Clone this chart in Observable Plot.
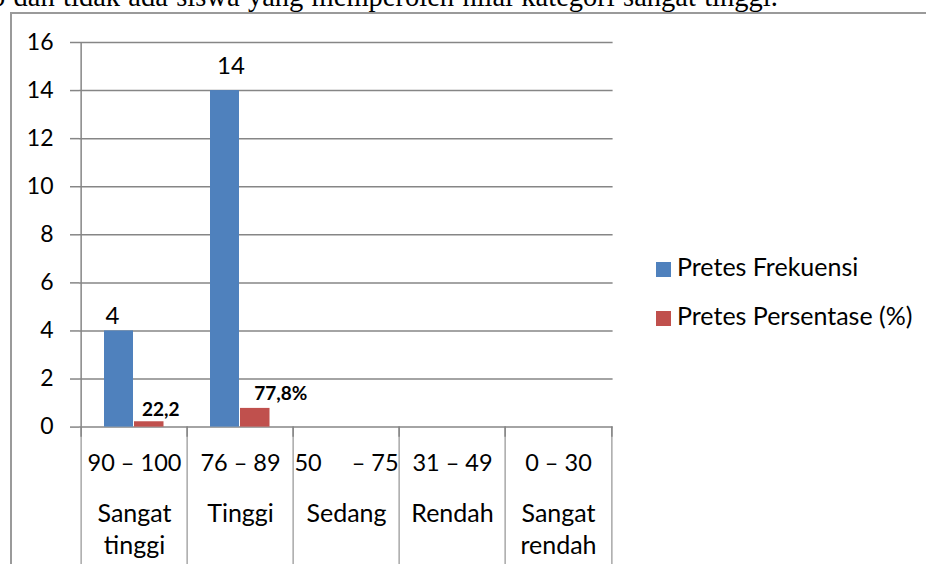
<!DOCTYPE html>
<html>
<head>
<meta charset="utf-8">
<script src="https://cdn.jsdelivr.net/npm/d3@7"></script>
<script src="https://cdn.jsdelivr.net/npm/@observablehq/plot@0.6"></script>
<style>
  html, body { margin: 0; padding: 0; background: white; }
  #wrap { position: relative; width: 926px; height: 564px; overflow: hidden; background: white; }
  #caption { position: absolute; left: -9px; top: -17px; font-family: "Liberation Serif", serif; font-size: 28.5px; line-height: 27px; word-spacing: 1.2px; white-space: nowrap; color: #000; }
  #border { position: absolute; left: 10px; top: 12px; width: 1000px; height: 700px; border-left: 2px solid #9a9a9a; border-top: 2px solid #9a9a9a; box-sizing: border-box; }
  #chart { position: absolute; left: 0; top: 0; }
  .legend { position: absolute; left: 656px; font-family: Lato, sans-serif; font-size: 25px; color: #000; white-space: nowrap; line-height: 25px; }
  .legend .sw { position: absolute; left: 0; width: 15px; height: 15px; }
  .legend .lt { position: absolute; left: 21px; }
</style>
</head>
<body>
<div id="wrap">
  <div id="caption"></div>
  <div id="border"></div>
  <div id="chart"></div>
</div>
<script>
const captionText = "b dan tidak ada siswa yang memperoleh nilai kategori sangat tinggi.";
const categories = ["Sangat tinggi", "Tinggi", "Sedang", "Rendah", "Sangat rendah"];
const rangeLabels = ["90 – 100", "76 – 89", "50\u00A0\u00A0\u00A0\u00A0\u00A0– 75", "31 – 49", "0 – 30"];
const categoryLabels = ["Sangat\ntinggi", "Tinggi", "Sedang", "Rendah", "Sangat\nrendah"];
const frekuensi = [4, 14, 0, 0, 0];
const persentase = [0.222, 0.778, 0, 0, 0];
const persentaseLabels = ["22,2", "77,8%", "", "", ""];
const yTicks = [0, 2, 4, 6, 8, 10, 12, 14, 16];
const seriesNames = ["Pretes Frekuensi", "Pretes Persentase (%)"];
const seriesColors = ["#4F81BD", "#C0504D"];

document.getElementById("caption").textContent = captionText;

const W = 926, H = 564;
const mL = 79, mR = 313.4, mT = 42, mB = 137.4;
const step = (W - mL - mR) / categories.length;
const grid = "#868686";

const rows = categories.map((c, i) => ({
  cat: c, range: rangeLabels[i], label: categoryLabels[i],
  freq: frekuensi[i], pers: persentase[i], persLabel: persentaseLabels[i]
}));
const freqRows = rows.filter(d => d.freq > 0);
const persRows = rows.filter(d => d.pers > 0);

const plot = Plot.plot({
  width: W, height: H,
  marginLeft: mL, marginRight: mR, marginTop: mT, marginBottom: mB,
  style: { fontFamily: "Lato, sans-serif", fontSize: "23px", color: "#000", background: "transparent" },
  x: { type: "band", domain: categories, padding: 0, axis: null },
  y: { domain: [0, 16], axis: null },
  marks: [
    // light dividers below axis (category cells)
    Plot.ruleX(categories, { x: d => d, dx: -step / 2, y1: 0, y2: -6, stroke: "#a8a8a8", strokeWidth: 1.5 }),
    Plot.ruleX([categories[categories.length - 1]], { x: d => d, dx: step / 2, y1: 0, y2: -6, stroke: "#a8a8a8", strokeWidth: 1.5 }),
    // tick marks below axis
    Plot.ruleX(categories, { x: d => d, dx: -step / 2, y1: 0, y2: -0.42, stroke: grid, strokeWidth: 1.5 }),
    Plot.ruleX([categories[categories.length - 1]], { x: d => d, dx: step / 2, y1: 0, y2: -0.42, stroke: grid, strokeWidth: 1.5 }),
    // y axis line
    Plot.ruleX([categories[0]], { x: d => d, dx: -step / 2, y1: 0, y2: 16, stroke: grid, strokeWidth: 1.5 }),
    // gridlines
    Plot.ruleY(yTicks, { stroke: grid, strokeWidth: 1.5 }),
    Plot.axisY({ ticks: yTicks, tickSize: 9, tickPadding: 17, fontSize: 23, stroke: grid, strokeWidth: 1.5, fill: "#000", label: null }),
    // bars
    Plot.barY(freqRows, { x: "cat", y: "freq", fill: seriesColors[0], insetLeft: 23, insetRight: 54 }),
    Plot.barY(persRows, { x: "cat", y: "pers", fill: seriesColors[1], insetLeft: 53, insetRight: 23.5 }),
    // value labels
    Plot.text(freqRows.slice(0, 1), { x: "cat", y: "freq", text: d => String(d.freq), lineAnchor: "bottom", dx: -22, dy: -7.4, fontSize: 24, fill: "#000" }),
    Plot.text(freqRows.slice(1, 2), { x: "cat", y: "freq", text: d => String(d.freq), lineAnchor: "bottom", dx: -9.5, dy: -17, fontSize: 24, fill: "#000" }),
    Plot.text(persRows.slice(0, 1), { x: "cat", y: "pers", text: "persLabel", lineAnchor: "bottom", dx: 26.3, dy: -5.6, fontSize: 19, fontWeight: "bold", fill: "#000" }),
    Plot.text(persRows.slice(1, 2), { x: "cat", y: "pers", text: "persLabel", lineAnchor: "bottom", dx: 40.3, dy: -7.9, fontSize: 19, fontWeight: "bold", fill: "#000" }),
    // category labels
    Plot.text(rows, { x: "cat", text: "range", frameAnchor: "bottom", lineAnchor: "bottom", dy: 43.4, fontSize: 23.5, fill: "#000" }),
    Plot.text(rows, { x: "cat", text: "label", frameAnchor: "bottom", lineAnchor: "top", lineHeight: 32 / 25, dy: 71.7, fontSize: 25, fill: "#000" })
  ]
});
document.getElementById("chart").appendChild(plot);

// legend
const wrap = document.getElementById("wrap");
const legendTops = [262, 311];
seriesNames.forEach((name, i) => {
  const item = document.createElement("div");
  item.className = "legend";
  item.style.top = legendTops[i] + "px";
  const sw = document.createElement("div");
  sw.className = "sw";
  sw.style.background = seriesColors[i];
  sw.style.top = "0px";
  const lt = document.createElement("div");
  lt.className = "lt";
  lt.style.top = "-7.8px";
  lt.textContent = name;
  item.appendChild(sw);
  item.appendChild(lt);
  wrap.appendChild(item);
});
</script>
</body>
</html>
